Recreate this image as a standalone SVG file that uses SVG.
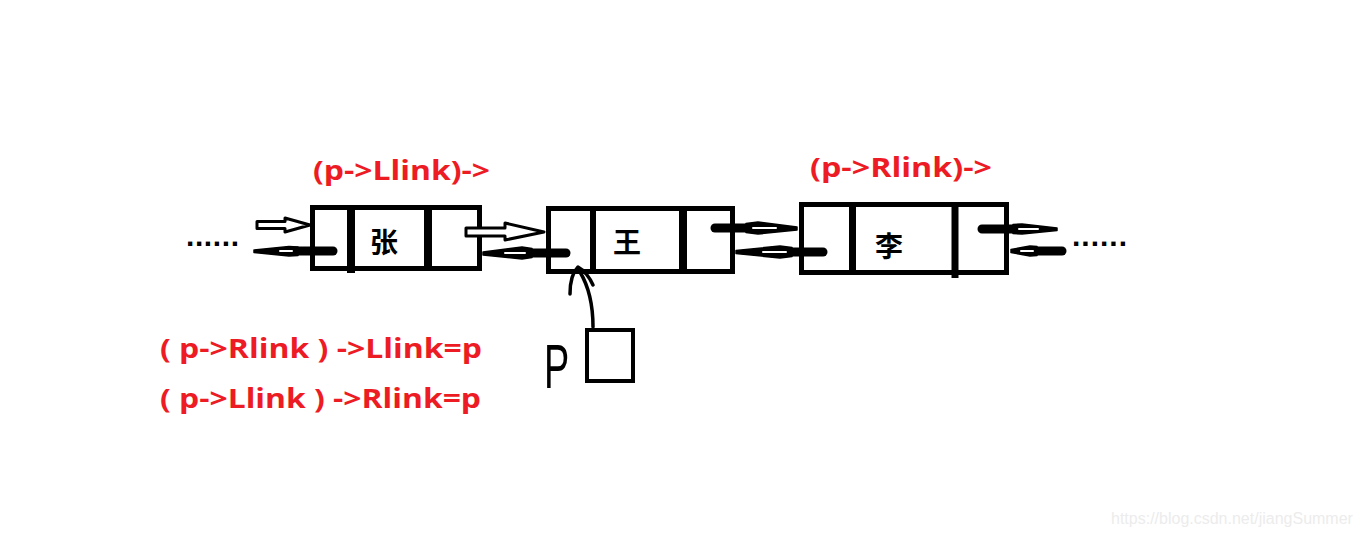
<svg xmlns="http://www.w3.org/2000/svg" width="1360" height="535" viewBox="0 0 1360 535">
<defs>
<style>
.box{fill:#fff;stroke:#000;stroke-width:5}
.div{stroke:#000}
.cjk{font-family:"Noto Sans CJK SC","Noto Sans",sans-serif;font-weight:bold;font-size:28px;fill:#000;text-anchor:middle}
.red{font-family:"Open Sans","Noto Sans CJK SC",sans-serif;font-weight:bold;font-size:26px;fill:#ED1C24}
.dots{font-family:"Liberation Sans",sans-serif;font-weight:bold;font-size:30px;fill:#000}
.bar{stroke:#000;stroke-width:9;stroke-linecap:round}
.sp{fill:#000;stroke:#000;stroke-width:1.5;stroke-linejoin:round}
.wl{stroke:#fff;stroke-width:2;stroke-linecap:round}
.hol{fill:#fff;stroke:#000;stroke-width:3;stroke-linejoin:round}
.thin{fill:none;stroke:#000;stroke-width:3.5;stroke-linecap:round;stroke-linejoin:round}
</style>
</defs>
<rect width="1360" height="535" fill="#fff"/>

<g id="node-zhang">
<rect class="box" x="312.5" y="207.5" width="167" height="61"/>
<line class="div" x1="351" y1="205" x2="351" y2="273" stroke-width="8"/>
<line class="div" x1="428" y1="205" x2="428" y2="271" stroke-width="8"/>
<text class="cjk" x="384" y="253">张</text>
</g>

<g id="node-wang">
<rect class="box" x="548.5" y="208.5" width="184" height="63"/>
<line class="div" x1="593" y1="206" x2="593" y2="274" stroke-width="6"/>
<line class="div" x1="683" y1="206" x2="683" y2="274" stroke-width="8"/>
<text class="cjk" x="627" y="253">王</text>
</g>

<g id="node-li">
<rect class="box" x="801.5" y="204.5" width="205" height="68"/>
<line class="div" x1="852.5" y1="202" x2="852.5" y2="275" stroke-width="7"/>
<line class="div" x1="955" y1="202" x2="955" y2="278" stroke-width="7"/>
<text class="cjk" x="889" y="257">李</text>
</g>

<g id="node-p">
<rect x="587" y="330" width="46" height="51" fill="#fff" stroke="#000" stroke-width="4"/>
<text transform="translate(544,388) scale(0.6,1)" x="0" y="0" font-family="Liberation Sans, sans-serif" font-size="63" fill="#000">P</text>
</g>

<g id="dots">
<text class="dots" x="186" y="246" textLength="53">......</text>
<text class="dots" x="1072" y="246" textLength="55">......</text>
</g>

<g id="connectors">
<path class="hol" d="M257,221.5 L285,221.5 L285,218 L310,225 L285,232 L285,228.5 L257,228.5 Z"/>
<line class="bar" x1="333" y1="251" x2="296" y2="251"/>
<path class="sp" d="M298,247 L289,246.5 L254,250 L254,252.5 L289,256 L298,255.5 Z"/>
<line class="wl" x1="292" y1="251" x2="280" y2="251"/>
<path class="hol" d="M466,228 L505,228 L505,223 L544,232 L505,240 L505,236 L466,236 Z"/>
<line class="bar" x1="566" y1="253" x2="530" y2="253"/>
<path class="sp" d="M532,248.5 L522,247 L483,252 L483,255 L522,259 L532,257.5 Z"/>
<line class="wl" x1="525" y1="253" x2="505" y2="253"/>
<line class="bar" x1="715" y1="228" x2="748" y2="228"/>
<path class="sp" d="M746,223.5 L758,222 L797,227 L797,230 L758,234 L746,232.5 Z"/>
<line class="wl" x1="753" y1="228" x2="776" y2="228"/>
<line class="bar" x1="823" y1="252" x2="790" y2="252"/>
<path class="sp" d="M792,247.5 L780,246 L736,250.5 L736,253.5 L780,258 L792,256.5 Z"/>
<line class="wl" x1="786" y1="252" x2="763" y2="252"/>
<line class="bar" x1="982" y1="229" x2="1015" y2="229"/>
<path class="sp" d="M1013,224.5 L1022,224 L1057,228 L1057,230.5 L1022,234 L1013,233.5 Z"/>
<line class="wl" x1="1019" y1="229" x2="1038" y2="229"/>
<line class="bar" x1="1062" y1="251" x2="1035" y2="251"/>
<path class="sp" d="M1037,246.5 L1030,246 L1011,249.5 L1011,252.5 L1030,256 L1037,255.5 Z"/>
<line class="wl" x1="1033" y1="251" x2="1021" y2="251"/>
<path class="thin" d="M593,327 C593,305 589,287 580,272"/>
<path class="thin" d="M570,294 C570,282 573,272 578,267 C584,270 590,278 593,285"/>
</g>

<g id="labels">
<text class="red" x="313" y="180" textLength="177" lengthAdjust="spacingAndGlyphs">(p-&gt;Llink)-&gt;</text>
<text class="red" x="810" y="177" textLength="182" lengthAdjust="spacingAndGlyphs">(p-&gt;Rlink)-&gt;</text>
<text class="red" x="160" y="358" textLength="322" lengthAdjust="spacingAndGlyphs">( p-&gt;Rlink ) -&gt;Llink=p</text>
<text class="red" x="160" y="408" textLength="321" lengthAdjust="spacingAndGlyphs">( p-&gt;Llink ) -&gt;Rlink=p</text>
</g>

<text x="1111" y="524" font-family="Liberation Sans, Arial, sans-serif" font-size="16" fill="#ececec">https://blog.csdn.net/jiangSummer</text>
</svg>
